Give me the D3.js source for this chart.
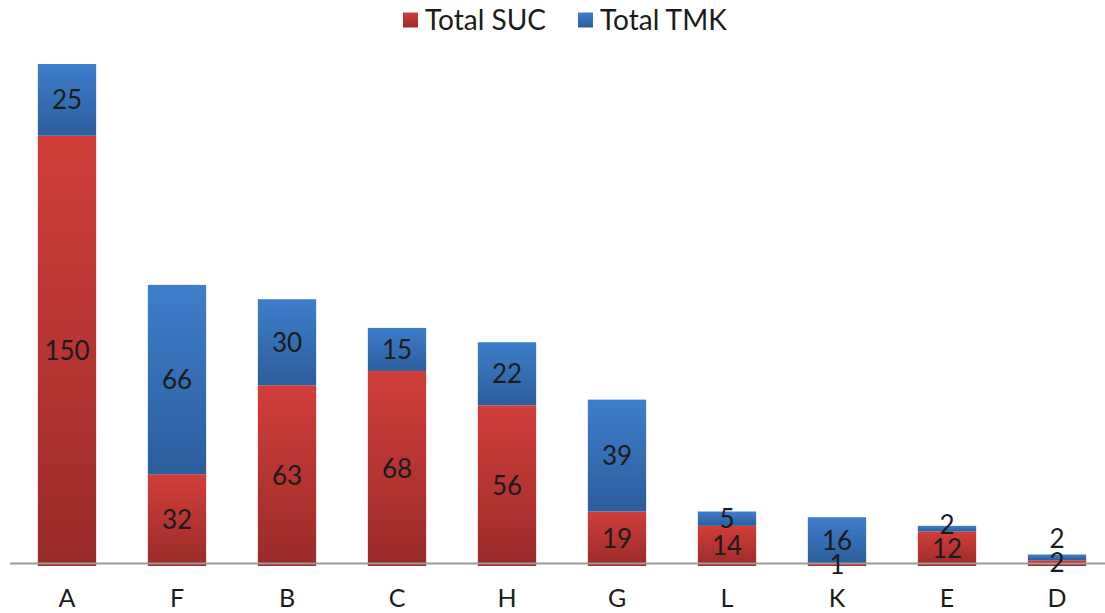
<!DOCTYPE html>
<html>
<head>
<meta charset="utf-8">
<script src="https://cdn.jsdelivr.net/npm/d3@7"></script>
<style>
  html, body { margin: 0; padding: 0; background: #fff; }
  svg { display: block; }
  text { font-family: Lato, "Liberation Sans", sans-serif; fill: #1b1b1b; }
</style>
</head>
<body>
<svg id="chart" width="1105" height="613"></svg>
<script>
// Categories in display order and the two stacked series
const categories = ["A", "F", "B", "C", "H", "G", "L", "K", "E", "D"];
const totalSUC   = [150, 32, 63, 68, 56, 19, 14, 1, 12, 2];
const totalTMK   = [25, 66, 30, 15, 22, 39, 5, 16, 2, 2];
const seriesNames = ["Total SUC", "Total TMK"];

const W = 1105, H = 613;
const svg = d3.select("#chart");

const rows = categories.map((c, i) => ({ cat: c, suc: totalSUC[i], tmk: totalTMK[i] }));
const stack = d3.stack().keys(["suc", "tmk"])(rows);

const x = d3.scaleBand()
  .domain(categories)
  .range([12, 1112])
  .paddingInner(0.47)
  .paddingOuter(0.235);

const y = d3.scaleLinear()
  .domain([0, 175])
  .range([566, 64]);

// Vertical gradients, lighter at the top of each segment
const defs = svg.append("defs");
const palettes = [
  { id: "gSUC", top: "#d13e3a", bottom: "#9a2b29" },
  { id: "gTMK", top: "#3e7ecb", bottom: "#2c5d9c" }
];
palettes.forEach(p => {
  const g = defs.append("linearGradient")
    .attr("id", p.id).attr("x1", 0).attr("y1", 0).attr("x2", 0).attr("y2", 1);
  g.append("stop").attr("offset", "0%").attr("stop-color", p.top);
  g.append("stop").attr("offset", "100%").attr("stop-color", p.bottom);
});

// Stacked bars
const layers = svg.append("g").selectAll("g")
  .data(stack)
  .join("g")
  .attr("fill", (d, i) => `url(#${palettes[i].id})`);

layers.selectAll("rect")
  .data(d => d)
  .join("rect")
  .attr("x", d => x(d.data.cat))
  .attr("width", x.bandwidth())
  .attr("y", d => y(d[1]))
  .attr("height", d => y(d[0]) - y(d[1]));

// Category axis line (drawn a little above the bar bottoms)
svg.append("line")
  .attr("x1", 10).attr("x2", W)
  .attr("y1", y(0) - 2.5).attr("y2", y(0) - 2.5)
  .attr("stroke", "#9a9a9a").attr("stroke-width", 2);

// Category labels
const xAxis = d3.axisBottom(x).tickSize(0).tickPadding(0);
const axG = svg.append("g")
  .attr("transform", `translate(0, ${y(0) + 41})`)
  .call(xAxis);
axG.select(".domain").remove();
axG.selectAll("text")
  .attr("y", 0)
  .attr("dy", 0)
  .style("font-size", "25px")
  .style("font-family", "Lato, 'Liberation Sans', sans-serif")
  .attr("fill", "#1b1b1b");

// Value labels centred in each segment; the upper label moves up if it would collide
const labelGap = 24;
const labelG = svg.append("g")
  .style("font-size", "26px")
  .attr("text-anchor", "middle");

rows.forEach((r, i) => {
  const lowMid = (y(0) + y(r.suc)) / 2;
  let highMid = (y(r.suc) + y(r.suc + r.tmk)) / 2;
  highMid = Math.min(highMid, lowMid - labelGap);
  const cx = x(r.cat) + x.bandwidth() / 2;
  labelG.append("text").attr("x", cx).attr("y", lowMid).attr("dy", "0.36em").text(r.suc);
  labelG.append("text").attr("x", cx).attr("y", highMid).attr("dy", "0.36em").text(r.tmk);
});

// Legend
const legend = svg.append("g").attr("transform", "translate(403, 20)");
let lx = 0;
seriesNames.forEach((name, i) => {
  const item = legend.append("g").attr("transform", `translate(${lx}, 0)`);
  item.append("rect")
    .attr("x", 0).attr("y", -7.5).attr("width", 15).attr("height", 15)
    .attr("fill", `url(#${palettes[i].id})`);
  const t = item.append("text")
    .attr("x", 22).attr("y", 0).attr("dy", "0.36em")
    .style("font-size", "28px")
    .text(name);
  lx += 22 + t.node().getComputedTextLength() + 32;
});
</script>
</body>
</html>
